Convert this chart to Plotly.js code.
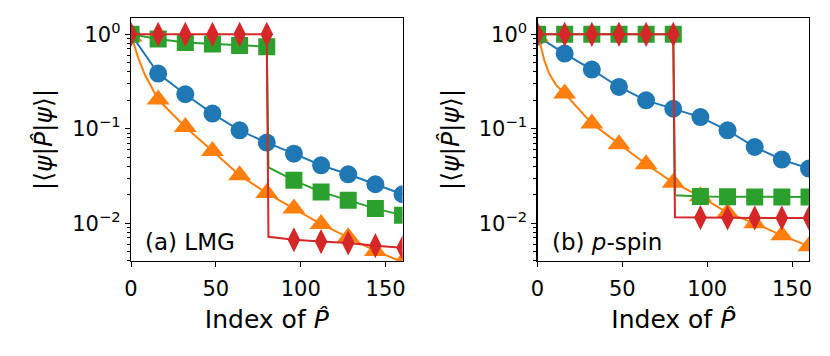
<!DOCTYPE html>
<html>
<head>
<meta charset="utf-8">
<script src="https://cdn.plot.ly/plotly-3.0.1.min.js"></script>
<style>
  body { margin: 0; background: #fff; }
  #chart { width: 830px; height: 356px; }
</style>
</head>
<body>
<div id="chart"></div>
<script>
// (a) LMG
var lmgBlueX   = [0, 16, 32, 48, 64, 80, 96, 112, 128, 144, 160];
var lmgBlueY   = [1.0, 0.384, 0.232, 0.145, 0.0964, 0.0714, 0.0546, 0.0411, 0.033, 0.0259, 0.0203];
var lmgOrangeX = [0, 1, 4, 8, 16, 32, 48, 64, 80, 96, 112, 128, 144, 160];
var lmgOrangeY = [0.95, 0.87, 0.58, 0.38, 0.204, 0.1045, 0.0582, 0.0322, 0.0209, 0.0143, 0.0098, 0.0071, 0.0051, 0.0039];
var lmgGreenX  = [0, 16, 32, 48, 64, 80, 81, 96, 112, 128, 144, 160];
var lmgGreenY  = [1.0, 0.89, 0.82, 0.79, 0.76, 0.74, 0.039, 0.0285, 0.0215, 0.0175, 0.0143, 0.0122];
var lmgRedX    = [0, 16, 32, 48, 64, 80, 81, 96, 112, 128, 144, 160];
var lmgRedY    = [1, 1, 1, 1, 1, 1, 0.0072, 0.0067, 0.0064, 0.0062, 0.0058, 0.0055];

// (b) p-spin
var pspinBlueX   = [0, 16, 32, 48, 64, 80, 96, 112, 128, 144, 160];
var pspinBlueY   = [0.95, 0.625, 0.423, 0.277, 0.2, 0.163, 0.133, 0.0964, 0.0642, 0.0472, 0.0379];
var pspinOrangeX = [0, 1, 4, 7, 11, 16, 32, 48, 64, 80, 96, 112, 128, 144, 160];
var pspinOrangeY = [0.95, 0.87, 0.53, 0.38, 0.29, 0.236, 0.114, 0.0686, 0.0421, 0.0269, 0.0193, 0.0129, 0.0100, 0.00746, 0.0057];
var pspinGreenX  = [0, 16, 32, 48, 64, 80, 81, 96, 112, 128, 144, 160];
var pspinGreenY  = [1, 1, 1, 1, 1, 1, 0.0198, 0.0192, 0.0191, 0.019, 0.019, 0.019];
var pspinRedX    = [0, 16, 32, 48, 64, 80, 81, 96, 112, 128, 144, 160];
var pspinRedY    = [1, 1, 1, 1, 1, 1, 0.0116, 0.0115, 0.0114, 0.0114, 0.0114, 0.0114];

var yTickVals = [1e-2, 1e-1, 1];
var yTickText = ['10<sup>\u22122</sup>', '10<sup>\u22121</sup>', '10<sup>0</sup>'];
var xTickVals = [0, 50, 100, 150];

var minorVals = [];
[0.001, 0.01, 0.1].forEach(function (d) {
  for (var k = 2; k <= 9; k++) minorVals.push(k * d);
});

var MARK_EVERY = 16;

function series(xs, ys, color, symbol, size, xa, ya) {
  return {
    x: xs, y: ys, xaxis: xa, yaxis: ya,
    type: 'scatter', mode: 'lines+markers',
    line: {color: color, width: 2},
    marker: {
      color: color, symbol: symbol, opacity: 1,
      line: {width: 0},
      size: xs.map(function (v) { return v % MARK_EVERY === 0 ? size : 0; })
    },
    showlegend: false, hoverinfo: 'skip'
  };
}

var C_BLUE = '#1f77b4', C_ORANGE = '#ff7f0e', C_GREEN = '#2ca02c', C_RED = '#d62728';

var data = [
  series(lmgBlueX, lmgBlueY, C_BLUE, 'circle', 18, 'x', 'y'),
  series(lmgOrangeX, lmgOrangeY, C_ORANGE, 'triangle-up', 20, 'x', 'y'),
  series(lmgGreenX, lmgGreenY, C_GREEN, 'square', 17, 'x', 'y'),
  series(lmgRedX, lmgRedY, C_RED, 'diamond-tall', 18, 'x', 'y'),
  series(pspinBlueX, pspinBlueY, C_BLUE, 'circle', 18, 'x2', 'y2'),
  series(pspinOrangeX, pspinOrangeY, C_ORANGE, 'triangle-up', 20, 'x2', 'y2'),
  series(pspinGreenX, pspinGreenY, C_GREEN, 'square', 17, 'x2', 'y2'),
  series(pspinRedX, pspinRedY, C_RED, 'diamond-tall', 18, 'x2', 'y2')
];

var FONT = 'DejaVu Sans';

function xAxis(domain, anchor) {
  return {
    domain: domain, anchor: anchor, range: [0, 160],
    tickmode: 'array', tickvals: xTickVals,
    ticks: 'outside', ticklen: 5, tickwidth: 1, tickcolor: '#000',
    ticklabelstandoff: 4,
    showline: true, mirror: true, linecolor: '#000', linewidth: 1.2,
    showgrid: false, zeroline: false,
    tickfont: {family: FONT, size: 21, color: '#000'},
    title: {text: 'Index of <i>P\u0302</i>', font: {family: FONT, size: 25, color: '#000'}, standoff: 10}
  };
}

function yAxis(anchor) {
  return {
    anchor: anchor, type: 'log', range: [-2.399, 0.1725],
    tickmode: 'array', tickvals: yTickVals, ticktext: yTickText,
    ticks: 'outside', ticklen: 5, tickwidth: 1, tickcolor: '#000',
    minor: {tickmode: 'array', tickvals: minorVals, ticks: 'outside', ticklen: 3, tickwidth: 1, tickcolor: '#000', showgrid: false},
    showline: true, mirror: true, linecolor: '#000', linewidth: 1.2,
    showgrid: false, zeroline: false,
    tickfont: {family: FONT, size: 21, color: '#000'},
    title: {text: '|\u27e8<i>\u03c8</i>|<i>P\u0302</i>|<i>\u03c8</i>\u27e9|', font: {family: FONT, size: 25, color: '#000'}, standoff: 12}
  };
}

var layout = {
  width: 830, height: 356,
  margin: {l: 131, r: 21, t: 18, b: 95},
  paper_bgcolor: '#fff', plot_bgcolor: '#fff',
  font: {family: FONT, color: '#000'},
  xaxis: xAxis([0, 0.4005], 'y'),
  yaxis: yAxis('x'),
  xaxis2: xAxis([0.5996, 1], 'y2'),
  yaxis2: yAxis('x2'),
  annotations: [
    {text: '(a) LMG', xref: 'x domain', yref: 'y domain', x: 0.045, y: 0.015,
     xanchor: 'left', yanchor: 'bottom', showarrow: false,
     font: {family: FONT, size: 23, color: '#000'}},
    {text: '(b) <i>p</i>-spin', xref: 'x2 domain', yref: 'y2 domain', x: 0.045, y: 0.015,
     xanchor: 'left', yanchor: 'bottom', showarrow: false,
     font: {family: FONT, size: 23, color: '#000'}}
  ]
};

Plotly.newPlot('chart', data, layout, {staticPlot: true});
</script>
</body>
</html>
